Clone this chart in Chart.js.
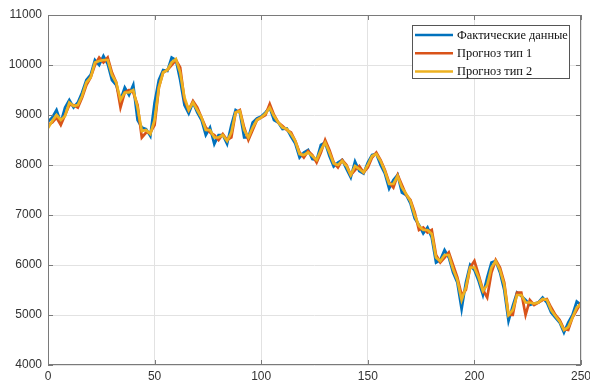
<!DOCTYPE html>
<html>
<head>
<meta charset="utf-8">
<script src="https://cdn.jsdelivr.net/npm/chart.js@4/dist/chart.umd.min.js"></script>
<style>
  html, body { margin: 0; padding: 0; background: #fff; }
</style>
</head>
<body>
<canvas id="forecastChart" width="590" height="386"></canvas>
<script>
// sample spacing along the x axis (one value every 2 steps)
const STEP = 2;

const actual = [
  8870, 8950, 9100, 8850, 9150, 9300, 9150, 9250, 9450, 9700,
  9800, 10100, 10000, 10180, 10020, 9700, 9600, 9300, 9550, 9400,
  9600, 8900, 8750, 8720, 8580, 9250, 9700, 9900, 9880, 10150,
  10100, 9700, 9200, 9030, 9250, 9050, 8900, 8600, 8750, 8420,
  8600, 8600, 8420, 8800, 9100, 9050, 8550, 8550, 8850, 8930,
  8970, 9050, 9150, 8900, 8850, 8720, 8730, 8570, 8430, 8150,
  8250, 8300, 8120, 8100, 8400, 8450, 8180, 7970, 8050, 8100,
  7920, 7750, 8070, 7880, 7830, 8050, 8200, 8220, 8000, 7830,
  7530, 7700, 7800, 7450, 7400, 7230, 6930, 6800, 6630, 6750,
  6550, 6050, 6100, 6300, 6150, 5850, 5650, 5120, 5650, 6000,
  5900, 5680, 5400, 5750, 6050, 6080, 5850, 5500, 4880, 5180,
  5450, 5380, 5300, 5200, 5230, 5250, 5350, 5250, 5050, 4950,
  4850, 4650, 4850, 5000, 5270, 5200
];

const forecast1 = [
  8800, 8850, 8950, 8800, 9000, 9200, 9200, 9150, 9350, 9600,
  9750, 10000, 10150, 10050, 10150, 9850, 9650, 9150, 9450, 9500,
  9450, 9200, 8550, 8650, 8650, 8800, 9550, 9850, 9900, 10000,
  10100, 9950, 9300, 9100, 9280, 9150, 8950, 8750, 8650, 8600,
  8500, 8620, 8500, 8550, 9050, 9100, 8750, 8500, 8700, 8900,
  8950, 9000, 9220, 9000, 8850, 8780, 8700, 8650, 8480, 8250,
  8150, 8280, 8200, 8050, 8250, 8500, 8300, 8050, 7950, 8100,
  8000, 7800, 7900, 7980, 7850, 7950, 8150, 8250, 8100, 7900,
  7650, 7550, 7800, 7600, 7400, 7300, 7050, 6700, 6750, 6650,
  6700, 6200, 6050, 6150, 6250, 6000, 5750, 5400, 5500, 5950,
  6080, 5800, 5500, 5350, 5850, 6100, 5950, 5650, 5000, 5000,
  5450, 5450, 5000, 5300, 5200, 5250, 5300, 5320, 5150, 5000,
  4900, 4720, 4700, 4950, 5100, 5250
];

const forecast2 = [
  8740, 8880, 9000, 8900, 8980, 9250, 9180, 9200, 9380, 9650,
  9750, 10050, 10080, 10100, 10100, 9800, 9650, 9300, 9450, 9450,
  9500, 9150, 8680, 8700, 8620, 8900, 9550, 9850, 9900, 10050,
  10120, 9850, 9350, 9100, 9250, 9100, 8950, 8700, 8700, 8550,
  8550, 8600, 8480, 8650, 9050, 9080, 8700, 8550, 8750, 8900,
  8950, 9030, 9150, 8980, 8850, 8750, 8720, 8620, 8480, 8220,
  8200, 8250, 8180, 8100, 8300, 8450, 8250, 8030, 8000, 8080,
  7980, 7800, 7980, 7920, 7850, 8000, 8180, 8220, 8080, 7880,
  7620, 7620, 7780, 7550, 7420, 7280, 7000, 6780, 6700, 6700,
  6620, 6150, 6080, 6200, 6200, 5920, 5700, 5300, 5550, 5950,
  5950, 5750, 5480, 5600, 5950, 6080, 5900, 5600, 5000, 5100,
  5400, 5400, 5250, 5250, 5230, 5250, 5320, 5300, 5100, 4980,
  4870, 4700, 4760, 4950, 5150, 5220
];

const seriesNames = ['Фактические данные', 'Прогноз тип 1', 'Прогноз тип 2'];
const seriesColors = ['#0072BD', '#D95319', '#EDB120'];
const xTicks = [0, 50, 100, 150, 200, 250];
const yTicks = [4000, 5000, 6000, 7000, 8000, 9000, 10000, 11000];

const toPoints = (vals) => vals.map((v, i) => ({ x: i * STEP, y: v }));

const axisColor = '#7a7a7a';
const tickFont = { family: 'Liberation Sans, Arial, sans-serif', size: 12 };

// MATLAB-like box, inward ticks and a legend inside the axes
const boxPlugin = {
  id: 'box',
  afterDraw(chart) {
    const { ctx, chartArea: a, scales } = chart;
    ctx.save();
    ctx.strokeStyle = axisColor;
    ctx.lineWidth = 1;
    ctx.strokeRect(a.left + 0.5, a.top + 0.5, a.right - a.left - 1, a.bottom - a.top - 1);
    ctx.beginPath();
    xTicks.forEach((v) => {
      const px = Math.round(scales.x.getPixelForValue(v)) + 0.5;
      ctx.moveTo(px, a.bottom); ctx.lineTo(px, a.bottom - 5);
      ctx.moveTo(px, a.top); ctx.lineTo(px, a.top + 5);
    });
    yTicks.forEach((v) => {
      const py = Math.round(scales.y.getPixelForValue(v)) + 0.5;
      ctx.moveTo(a.left, py); ctx.lineTo(a.left + 5, py);
      ctx.moveTo(a.right, py); ctx.lineTo(a.right - 5, py);
    });
    ctx.stroke();

    // legend
    const lx = a.right - 169, ly = a.top + 10, lw = 157, lh = 53;
    ctx.fillStyle = '#fff';
    ctx.fillRect(lx, ly, lw, lh);
    ctx.strokeStyle = '#555';
    ctx.strokeRect(lx + 0.5, ly + 0.5, lw, lh);
    ctx.font = '12.4px "Liberation Serif", "Times New Roman", serif';
    ctx.textBaseline = 'middle';
    seriesNames.forEach((name, i) => {
      const y = ly + 10 + i * 18.3;
      ctx.strokeStyle = seriesColors[i];
      ctx.lineWidth = 2.5;
      ctx.beginPath();
      ctx.moveTo(lx + 3, y); ctx.lineTo(lx + 41, y);
      ctx.stroke();
      ctx.fillStyle = '#111';
      ctx.fillText(name, lx + 45, y + 0.5);
    });
    ctx.restore();
  }
};

new Chart(document.getElementById('forecastChart'), {
  type: 'line',
  data: {
    datasets: [actual, forecast1, forecast2].map((vals, i) => ({
      label: seriesNames[i],
      data: toPoints(vals),
      borderColor: seriesColors[i],
      borderWidth: 2.7,
      pointRadius: 0,
      tension: 0,
      fill: false,
      order: 2 - i,
    })),
  },
  options: {
    responsive: false,
    animation: false,
    layout: { padding: { top: 15, right: 9, left: 0, bottom: 0 } },
    plugins: {
      legend: { display: false },
      tooltip: { enabled: false },
    },
    scales: {
      x: {
        type: 'linear',
        min: 0,
        max: 250,
        afterBuildTicks: (s) => { s.ticks = xTicks.map((v) => ({ value: v })); },
        afterFit: (s) => { s.height = 21; s.paddingLeft = 0; s.paddingRight = 0; },
        grid: { color: '#e2e2e2', drawTicks: false },
        border: { display: false },
        ticks: { padding: 4, color: '#333', font: tickFont, callback: (v) => String(v) },
      },
      y: {
        min: 4000,
        max: 11000,
        afterBuildTicks: (s) => { s.ticks = yTicks.map((v) => ({ value: v })); },
        afterFit: (s) => { s.width = 48; s.paddingTop = 0; s.paddingBottom = 0; },
        grid: { color: '#e2e2e2', drawTicks: false },
        border: { display: false },
        ticks: { padding: 6, color: '#333', font: tickFont, callback: (v) => String(v) },
      },
    },
  },
  plugins: [boxPlugin],
});
</script>
</body>
</html>
